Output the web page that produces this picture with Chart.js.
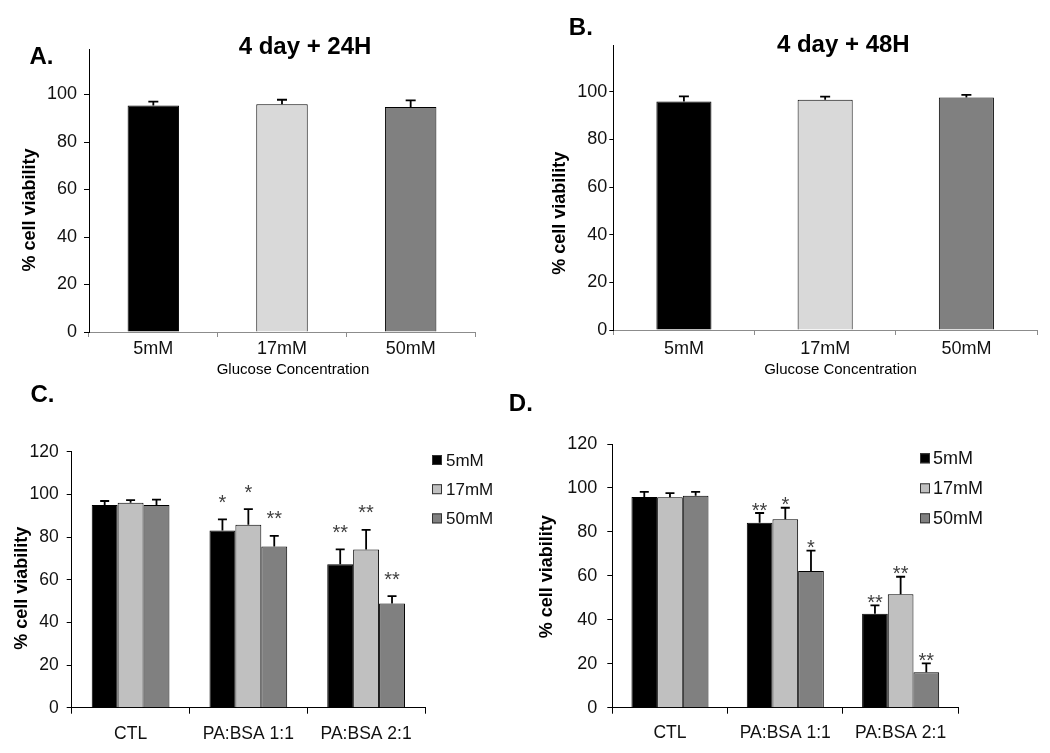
<!DOCTYPE html>
<html><head><meta charset="utf-8">
<script src="https://cdn.jsdelivr.net/npm/chart.js@4.4.1/dist/chart.umd.min.js"></script>
<style>
html,body{margin:0;padding:0;background:#fff;}
body{width:1050px;height:753px;position:relative;overflow:hidden;}
canvas{position:absolute;}
</style></head><body>
<canvas id="cA" width="525" height="380" style="left:0px;top:0px"></canvas>
<canvas id="cB" width="525" height="380" style="left:525px;top:0px"></canvas>
<canvas id="cC" width="525" height="373" style="left:0px;top:380px"></canvas>
<canvas id="cD" width="555" height="373" style="left:495px;top:380px"></canvas>
<script>
const FONT = "'Liberation Sans', Arial, Helvetica, sans-serif";

// ---- Panels A & B : single series per glucose concentration ----
const glucoseLabels = ['5mM', '17mM', '50mM'];
const viabilityA = [95.4, 95.9, 94.7];
const errorA = [1.6, 1.9, 2.8];
const viabilityB = [95.9, 96.6, 97.6];
const errorB = [2.1, 1.3, 1.1];
const yTicksAB = [0, 20, 40, 60, 80, 100];

// ---- Panels C & D : three glucose series per treatment ----
const treatmentLabels = ['CTL', 'PA:BSA 1:1', 'PA:BSA 2:1'];
const seriesNames = ['5mM', '17mM', '50mM'];
const viabilityC5 = [95.0, 83.1, 67.2];
const viabilityC17 = [96.1, 85.8, 74.2];
const viabilityC50 = [95.0, 75.6, 48.8];
const errorC5 = [1.9, 5.2, 7.0];
const errorC17 = [1.2, 7.3, 9.2];
const errorC50 = [2.5, 4.9, 3.5];
const starsC5 = ['', '*', '**'];
const starsC17 = ['', '*', '**'];
const starsC50 = ['', '**', '**'];
const viabilityD5 = [95.9, 84.2, 42.8];
const viabilityD17 = [95.8, 85.7, 51.6];
const viabilityD50 = [96.4, 62.2, 16.1];
const errorD5 = [2.3, 4.4, 3.8];
const errorD17 = [1.8, 5.3, 8.0];
const errorD50 = [1.8, 9.3, 4.1];
const starsD5 = ['', '**', '**'];
const starsD17 = ['', '*', '**'];
const starsD50 = ['', '*', '**'];
const yTicksCD = [0, 20, 40, 60, 80, 100, 120];

const colorsAB = ['#000000', '#d9d9d9', '#808080'];
const colorsCD = ['#000000', '#c0c0c0', '#808080'];

function errorBarPlugin(o) {
  return {
    id: 'errorBars',
    afterDatasetsDraw(chart) {
      const ctx = chart.ctx, ys = chart.scales.y;
      ctx.save();
      chart.data.datasets.forEach((ds, i) => {
        const meta = chart.getDatasetMeta(i);
        meta.data.forEach((bar, j) => {
          const top = ys.getPixelForValue(ds.data[j] + ds.errors[j]);
          const x = bar.x;
          ctx.strokeStyle = '#000';
          ctx.lineWidth = o.lineWidth;
          ctx.beginPath();
          ctx.moveTo(x, bar.y);
          ctx.lineTo(x, top);
          ctx.moveTo(x - o.cap / 2, top);
          ctx.lineTo(x + o.cap / 2, top);
          ctx.stroke();
          const s = ds.stars ? ds.stars[j] : '';
          if (s) {
            ctx.fillStyle = '#404040';
            ctx.font = o.starSize + 'px ' + FONT;
            ctx.textAlign = 'center';
            ctx.textBaseline = 'alphabetic';
            ctx.fillText(s, x, top - o.starGap + 0.575 * o.starSize);
          }
        });
      });
      ctx.restore();
    }
  };
}

function textPlugin(items) {
  return {
    id: 'panelText',
    afterDraw(chart) {
      const ctx = chart.ctx;
      items.forEach(it => {
        ctx.save();
        ctx.translate(it.x, it.y);
        if (it.rotate) ctx.rotate(it.rotate * Math.PI / 180);
        ctx.font = it.font;
        ctx.fillStyle = '#000';
        ctx.textAlign = 'center';
        ctx.textBaseline = 'middle';
        ctx.fillText(it.text, 0, 0);
        ctx.restore();
      });
    }
  };
}

function legendPlugin(o) {
  return {
    id: 'boxLegend',
    afterDraw(chart) {
      const ctx = chart.ctx;
      ctx.save();
      chart.data.datasets.forEach((ds, i) => {
        const cy = o.y + i * o.dy;
        ctx.fillStyle = ds.backgroundColor;
        ctx.fillRect(o.x, cy - o.box / 2, o.box, o.box);
        ctx.strokeStyle = '#333';
        ctx.lineWidth = 1;
        ctx.strokeRect(o.x + 0.5, cy - o.box / 2 + 0.5, o.box - 1, o.box - 1);
        ctx.fillStyle = '#111';
        ctx.font = o.size + 'px ' + FONT;
        ctx.textAlign = 'left';
        ctx.textBaseline = 'middle';
        ctx.fillText(ds.label, o.x + o.box + o.gap, cy + 1);
      });
      ctx.restore();
    }
  };
}

function makeChart(id, cfg) {
  const plugins = [errorBarPlugin(cfg.err), textPlugin(cfg.texts)];
  if (cfg.legend) plugins.push(legendPlugin(cfg.legend));
  return new Chart(document.getElementById(id), {
    type: 'bar',
    data: { labels: cfg.labels, datasets: cfg.datasets },
    options: {
      responsive: false,
      animation: false,
      devicePixelRatio: 1,
      layout: { padding: { top: cfg.padTop, right: cfg.padRight, left: 0, bottom: 0 } },
      plugins: { legend: { display: false }, tooltip: { enabled: false } },
      scales: {
        x: {
          grid: { display: true, drawOnChartArea: false, drawTicks: true, tickLength: cfg.xTickLen,
                  color: cfg.xAxisColor, lineWidth: 1, offset: true },
          border: { display: true, color: cfg.xAxisColor, width: 1 },
          ticks: { color: '#111', font: { family: FONT, size: cfg.xFont }, padding: cfg.xPad,
                   maxRotation: 0, autoSkip: false },
          afterFit: s => { s.height = cfg.xHeight; }
        },
        y: {
          min: 0,
          max: cfg.yMax,
          afterBuildTicks: s => { s.ticks = cfg.yTicks.map(v => ({ value: v })); },
          grid: { drawOnChartArea: false, drawTicks: true, tickLength: cfg.yTickLen, color: '#000' },
          border: { display: true, color: '#000', width: 1 },
          ticks: { color: '#111', font: { family: FONT, size: cfg.yFont }, padding: cfg.yPad },
          afterFit: s => { s.width = cfg.yWidth; }
        }
      }
    },
    plugins: plugins
  });
}

const BOLD = s => 'bold ' + s + 'px ' + FONT;
const REG = s => s + 'px ' + FONT;

function singleSet(values, errors, pct) {
  return [{ label: '% cell viability', data: values, errors: errors,
            backgroundColor: colorsAB, borderColor: '#000', borderWidth: 1,
            categoryPercentage: pct, barPercentage: 1 }];
}
function groupSets(vals, errs, stars, pct) {
  return seriesNames.map((n, i) => ({
    label: n, data: vals[i], errors: errs[i], stars: stars[i],
    backgroundColor: colorsCD[i], borderColor: '#000', borderWidth: 1,
    categoryPercentage: pct, barPercentage: 1
  }));
}

makeChart('cA', {
  labels: glucoseLabels,
  datasets: singleSet(viabilityA, errorA, 0.4),
  padTop: 49.4, padRight: 50, yWidth: 89, xHeight: 48, yMax: 119, yTicks: yTicksAB,
  xTickLen: 5, xPad: 1.5, xFont: 18, xAxisColor: '#8c8c8c',
  yTickLen: 5, yPad: 7, yFont: 18,
  err: { lineWidth: 1.8, cap: 10, starSize: 20, starGap: 20 },
  texts: [
    { text: 'A.', x: 41.5, y: 57, font: BOLD(24) },
    { text: '4 day + 24H', x: 305, y: 47, font: BOLD(24) },
    { text: '% cell viability', x: 30, y: 210, rotate: -90, font: BOLD(18) },
    { text: 'Glucose Concentration', x: 293, y: 370, font: REG(15) }
  ]
});

makeChart('cB', {
  labels: glucoseLabels,
  datasets: singleSet(viabilityB, errorB, 0.39),
  padTop: 45, padRight: 13, yWidth: 88.3, xHeight: 50, yMax: 119.6, yTicks: yTicksAB,
  xTickLen: 5, xPad: 3.5, xFont: 18, xAxisColor: '#8c8c8c',
  yTickLen: 4, yPad: 2, yFont: 18,
  err: { lineWidth: 1.8, cap: 10, starSize: 20, starGap: 20 },
  texts: [
    { text: 'B.', x: 55.8, y: 28.3, font: BOLD(24) },
    { text: '4 day + 48H', x: 318.3, y: 45, font: BOLD(24) },
    { text: '% cell viability', x: 35, y: 213.3, rotate: -90, font: BOLD(18) },
    { text: 'Glucose Concentration', x: 315.5, y: 370, font: REG(15) }
  ]
});

makeChart('cC', {
  labels: treatmentLabels,
  datasets: groupSets([viabilityC5, viabilityC17, viabilityC50], [errorC5, errorC17, errorC50],
                      [starsC5, starsC17, starsC50], 0.66),
  padTop: 71.7, padRight: 100, yWidth: 71.7, xHeight: 45.3, yMax: 120, yTicks: yTicksCD,
  xTickLen: 6, xPad: 9.8, xFont: 17.5, xAxisColor: '#000',
  yTickLen: 5, yPad: 8, yFont: 17.5,
  err: { lineWidth: 1.8, cap: 9, starSize: 20, starGap: 22 },
  legend: { x: 432, y: 80, dy: 29.2, box: 10, gap: 4, size: 17 },
  texts: [
    { text: 'C.', x: 42.5, y: 15, font: BOLD(24) },
    { text: '% cell viability', x: 22.5, y: 208.3, rotate: -90, font: BOLD(18) }
  ]
});

makeChart('cD', {
  labels: treatmentLabels,
  datasets: groupSets([viabilityD5, viabilityD17, viabilityD50], [errorD5, errorD17, errorD50],
                      [starsD5, starsD17, starsD50], 0.668),
  padTop: 64, padRight: 91.7, yWidth: 117.3, xHeight: 45.3, yMax: 120, yTicks: yTicksCD,
  xTickLen: 6, xPad: 9, xFont: 17.5, xAxisColor: '#000',
  yTickLen: 5, yPad: 10, yFont: 18,
  err: { lineWidth: 1.8, cap: 9, starSize: 20, starGap: 8 },
  legend: { x: 425, y: 78.3, dy: 30, box: 10, gap: 3, size: 18 },
  texts: [
    { text: 'D.', x: 25.8, y: 24, font: BOLD(24) },
    { text: '% cell viability', x: 52.5, y: 196.7, rotate: -90, font: BOLD(18) }
  ]
});
</script>
</body></html>
